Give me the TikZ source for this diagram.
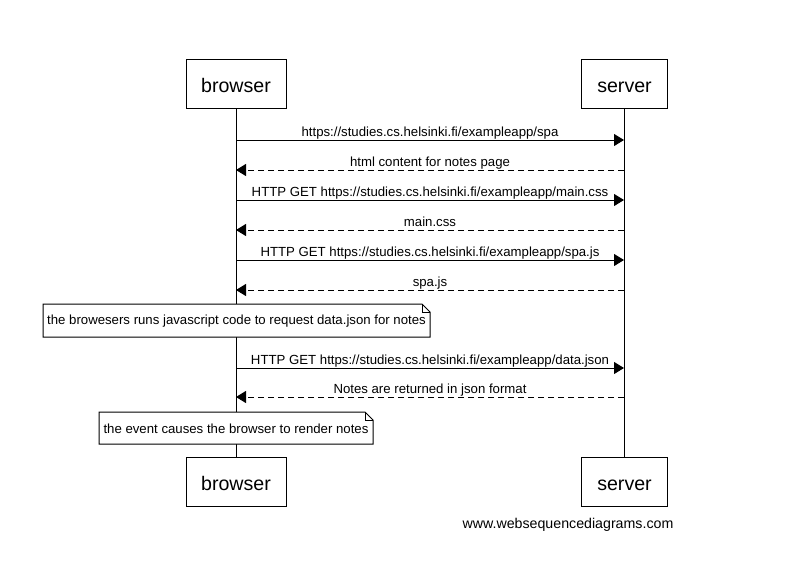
\documentclass[tikz,border=0pt]{standalone}
\usepackage{fontspec}
\setmainfont{Liberation Sans}
\usetikzlibrary{arrows.meta}
\begin{document}
\begin{tikzpicture}[x=1pt,y=-1pt,
  actor/.style={draw,line width=1pt,fill=white,minimum height=49pt,inner sep=0pt,text height=17.5pt,text depth=0.5pt,font=\fontsize{19.6}{22}\selectfont},
  msg/.style={line width=1pt,-{Triangle[length=10pt,width=12pt]}},
  reply/.style={msg,dash pattern=on 6pt off 4pt},
  lbl/.style={font=\fontsize{13.2}{15}\selectfont,anchor=base,inner sep=0pt},
  note/.style={font=\fontsize{13.2}{15}\selectfont,inner sep=0pt},
  life/.style={line width=1pt}]
\useasboundingbox (0,0) rectangle (796,563);
% actors
\node[actor,minimum width=100pt] (bt) at (236,83.5) {browser};
\node[actor,minimum width=86pt] (st) at (624.5,83.5) {server};
\node[actor,minimum width=100pt] (bb) at (236,481.5) {browser};
\node[actor,minimum width=86pt] (sb) at (624.5,481.5) {server};
% lifelines
\draw[life] (bt.south) -- (bb.north);
\draw[life] (st.south) -- (sb.north);
% message anchor coordinates
\foreach \n/\y in {1/140,2/170,3/200,4/230,5/260,6/290,7/368,8/397}{
  \coordinate (b\n) at (236,\y);
  \coordinate (s\n) at (624,\y);
}
\draw[msg] (b1) -- (s1);
\node[lbl] (l1) at (430,136) {https://studies.cs.helsinki.fi/exampleapp/spa};
\draw[reply] (s2) -- (b2);
\node[lbl] (l2) at (430,166) {html content for notes page};
\draw[msg] (b3) -- (s3);
\node[lbl] (l3) at (430,196) {HTTP GET https://studies.cs.helsinki.fi/exampleapp/main.css};
\draw[reply] (s4) -- (b4);
\node[lbl] (l4) at (430,226) {main.css};
\draw[msg] (b5) -- (s5);
\node[lbl] (l5) at (430,256) {HTTP GET https://studies.cs.helsinki.fi/exampleapp/spa.js};
\draw[reply] (s6) -- (b6);
\node[lbl] (l6) at (430,286) {spa.js};
% note 1
\draw[line width=1pt,fill=white] (43,304) -- (422,304) -- (430,312) -- (430,337) -- (43,337) -- cycle;
\draw[line width=1pt] (422,304) -- (422,312) -- (430,312);
\node[note] (n1) at (236.5,321) {the browesers runs javascript code to request data.json for notes};
\draw[msg] (b7) -- (s7);
\node[lbl] (l7) at (430,364) {HTTP GET https://studies.cs.helsinki.fi/exampleapp/data.json};
\draw[reply] (s8) -- (b8);
\node[lbl] (l8) at (430,393) {Notes are returned in json format};
% note 2
\draw[line width=1pt,fill=white] (99,412) -- (365,412) -- (373,420) -- (373,444) -- (99,444) -- cycle;
\draw[line width=1pt] (365,412) -- (365,420) -- (373,420);
\node[note] (n2) at (236,428.5) {the event causes the browser to render notes};
% footer
\node[font=\fontsize{14.2}{16}\selectfont,inner sep=0pt] (web) at (568,524.5) {www.websequencediagrams.com};
\end{tikzpicture}
\end{document}
